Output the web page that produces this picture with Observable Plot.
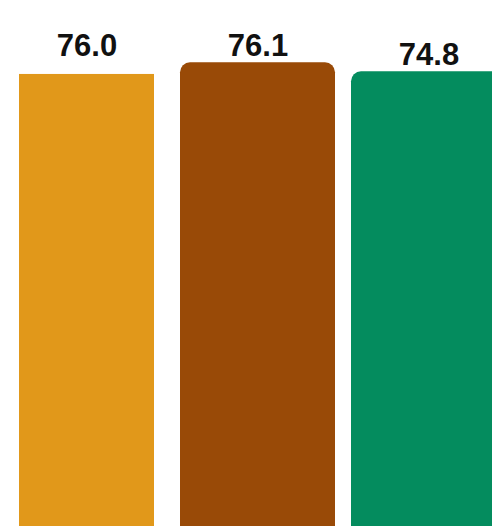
<!DOCTYPE html>
<html><head><meta charset="utf-8">
<script src="https://cdn.jsdelivr.net/npm/d3@7"></script>
<script src="https://cdn.jsdelivr.net/npm/@observablehq/plot@0.6"></script>
<style>html,body{margin:0;padding:0;background:#fff;overflow:hidden}</style>
</head><body><div id="chart"></div>
<script>
const categories = ["Series A", "Series B", "Series C"];
const values = [76.0, 76.1, 74.8];
const labels = ["76.0", "76.1", "74.8"];
const colors = ["#E1981A", "#994A07", "#048C5E"];

const data = categories.map((c, i) => ({category: c, value: values[i], label: labels[i]}));

const chart = Plot.plot({
  width: 492,
  height: 526,
  margin: 0,
  style: {fontFamily: "'Liberation Sans', Arial, sans-serif", background: "#fff"},
  x: {domain: categories, range: [0, 515], paddingInner: 0.0936, paddingOuter: 0.0526, axis: null},
  y: {domain: [9.8, 85], range: [526, 0], axis: null},
  color: {domain: categories, range: colors},
  marks: [
    Plot.barY(data.filter(d => d.category === categories[0]), {
      x: "category", y: "value", fill: "category",
      insetLeft: 10, insetRight: 10, insetTop: 11
    }),
    Plot.barY(data.filter(d => d.category !== categories[0]), {
      x: "category", y: "value", fill: "category", rx: 10
    }),
    Plot.text(data, {
      x: "category", y: "value", text: "label",
      dy: -7, lineAnchor: "bottom",
      fontSize: 31, fontWeight: "bold", fill: "#111"
    })
  ]
});
document.getElementById("chart").appendChild(chart);
</script>
</body></html>
